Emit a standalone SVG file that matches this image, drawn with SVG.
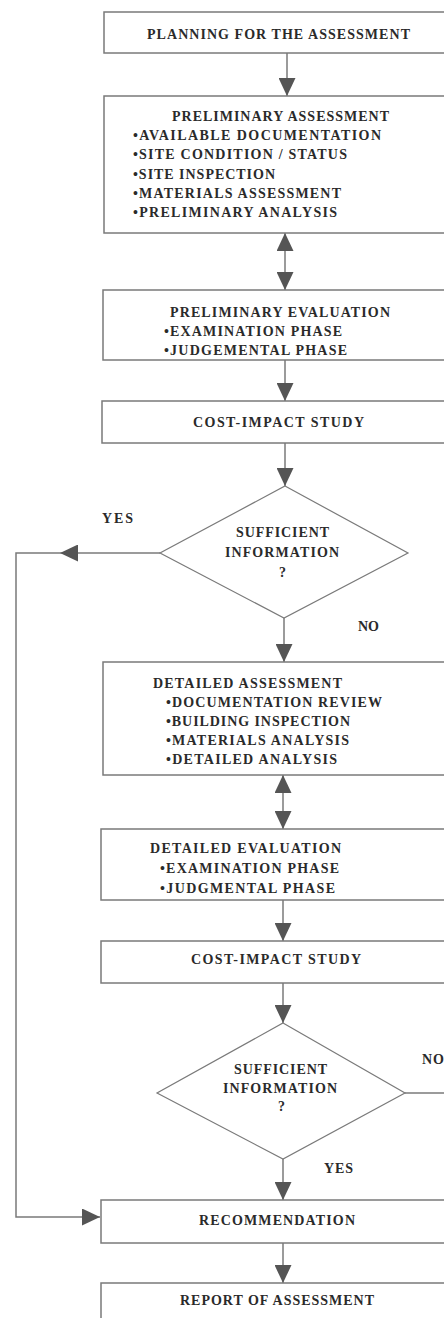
<svg xmlns="http://www.w3.org/2000/svg" width="444" height="1318" viewBox="0 0 444 1318">
  <style>
    .box { fill: #fff; stroke: #7a7a7a; stroke-width: 1.5; }
    .dia { fill: #fff; stroke: #7a7a7a; stroke-width: 1.2; }
    .ln { fill: none; stroke: #7a7a7a; stroke-width: 1.5; }
    text { font-family: "Liberation Serif", "Times New Roman", serif; font-weight: bold; font-size: 14px; fill: #2a2a2a; }
  </style>
  <defs>
    <marker id="arrow" markerUnits="userSpaceOnUse" markerWidth="18" markerHeight="17" refX="18" refY="8.5" orient="auto-start-reverse" viewBox="0 0 18 17">
      <path d="M0,0 L18,8.5 L0,17 Z" fill="#555"/>
    </marker>
  </defs>

  <g id="connectors">
    <line class="ln" x1="287" y1="53" x2="287" y2="96" marker-end="url(#arrow)"/>
    <line class="ln" x1="285" y1="233" x2="285" y2="290" marker-start="url(#arrow)" marker-end="url(#arrow)"/>
    <line class="ln" x1="285" y1="360" x2="285" y2="401" marker-end="url(#arrow)"/>
    <line class="ln" x1="285" y1="443" x2="285" y2="486" marker-end="url(#arrow)"/>
    <line class="ln" x1="160" y1="553" x2="60" y2="553" marker-end="url(#arrow)"/>
    <path class="ln" d="M60,553 L16,553 L16,1217 L100,1217" marker-end="url(#arrow)"/>
    <line class="ln" x1="284" y1="618" x2="284" y2="662" marker-end="url(#arrow)"/>
    <line class="ln" x1="283" y1="775" x2="283" y2="829" marker-start="url(#arrow)" marker-end="url(#arrow)"/>
    <line class="ln" x1="283" y1="900" x2="283" y2="941" marker-end="url(#arrow)"/>
    <line class="ln" x1="283" y1="983" x2="283" y2="1023" marker-end="url(#arrow)"/>
    <line class="ln" x1="405" y1="1093" x2="446" y2="1093"/>
    <line class="ln" x1="283" y1="1159" x2="283" y2="1200" marker-end="url(#arrow)"/>
    <line class="ln" x1="283" y1="1243" x2="283" y2="1283" marker-end="url(#arrow)"/>
    <text x="102" y="523" textLength="31" lengthAdjust="spacing">YES</text>
    <text x="358" y="631" textLength="21" lengthAdjust="spacing">NO</text>
    <text x="422" y="1064" textLength="22" lengthAdjust="spacing">NO</text>
    <text x="324" y="1173" textLength="29" lengthAdjust="spacing">YES</text>
  </g>

  <g id="planning">
    <rect class="box" x="104" y="12" width="360" height="41"/>
    <text x="147" y="39" textLength="263" lengthAdjust="spacing">PLANNING FOR THE ASSESSMENT</text>
  </g>

  <g id="preliminary-assessment">
    <rect class="box" x="104" y="96" width="360" height="137"/>
    <text x="172" y="121" textLength="217" lengthAdjust="spacing">PRELIMINARY ASSESSMENT</text>
    <text x="133" y="140" textLength="248" lengthAdjust="spacing">•AVAILABLE DOCUMENTATION</text>
    <text x="133" y="159" textLength="214" lengthAdjust="spacing">•SITE CONDITION / STATUS</text>
    <text x="133" y="179" textLength="142" lengthAdjust="spacing">•SITE INSPECTION</text>
    <text x="133" y="198" textLength="208" lengthAdjust="spacing">•MATERIALS ASSESSMENT</text>
    <text x="133" y="217" textLength="204" lengthAdjust="spacing">•PRELIMINARY ANALYSIS</text>
  </g>

  <g id="preliminary-evaluation">
    <rect class="box" x="103" y="290" width="360" height="70"/>
    <text x="170" y="317" textLength="220" lengthAdjust="spacing">PRELIMINARY EVALUATION</text>
    <text x="164" y="336" textLength="178" lengthAdjust="spacing">•EXAMINATION PHASE</text>
    <text x="164" y="355" textLength="183" lengthAdjust="spacing">•JUDGEMENTAL PHASE</text>
  </g>

  <g id="cost-impact-1">
    <rect class="box" x="102" y="401" width="360" height="42"/>
    <text x="193" y="427" textLength="171" lengthAdjust="spacing">COST-IMPACT  STUDY</text>
  </g>

  <g id="decision-1">
    <polygon class="dia" points="285,486 408,553 284,618 160,553"/>
    <text x="236" y="537" textLength="93" lengthAdjust="spacing">SUFFICIENT</text>
    <text x="225" y="557" textLength="114" lengthAdjust="spacing">INFORMATION</text>
    <text x="279" y="577">?</text>
  </g>

  <g id="detailed-assessment">
    <rect class="box" x="103" y="662" width="360" height="113"/>
    <text x="153" y="688" textLength="189" lengthAdjust="spacing">DETAILED ASSESSMENT</text>
    <text x="166" y="707" textLength="216" lengthAdjust="spacing">•DOCUMENTATION REVIEW</text>
    <text x="166" y="726" textLength="184" lengthAdjust="spacing">•BUILDING INSPECTION</text>
    <text x="166" y="745" textLength="183" lengthAdjust="spacing">•MATERIALS ANALYSIS</text>
    <text x="166" y="764" textLength="171" lengthAdjust="spacing">•DETAILED ANALYSIS</text>
  </g>

  <g id="detailed-evaluation">
    <rect class="box" x="101" y="829" width="360" height="71"/>
    <text x="150" y="853" textLength="191" lengthAdjust="spacing">DETAILED EVALUATION</text>
    <text x="160" y="873" textLength="179" lengthAdjust="spacing">•EXAMINATION PHASE</text>
    <text x="160" y="893" textLength="175" lengthAdjust="spacing">•JUDGMENTAL PHASE</text>
  </g>

  <g id="cost-impact-2">
    <rect class="box" x="101" y="941" width="360" height="42"/>
    <text x="191" y="964" textLength="170" lengthAdjust="spacing">COST-IMPACT  STUDY</text>
  </g>

  <g id="decision-2">
    <polygon class="dia" points="283,1023 405,1093 283,1159 157,1093"/>
    <text x="234" y="1074" textLength="93" lengthAdjust="spacing">SUFFICIENT</text>
    <text x="223" y="1093" textLength="114" lengthAdjust="spacing">INFORMATION</text>
    <text x="278" y="1111">?</text>
  </g>

  <g id="recommendation">
    <rect class="box" x="101" y="1200" width="360" height="43"/>
    <text x="199" y="1225" textLength="156" lengthAdjust="spacing">RECOMMENDATION</text>
  </g>

  <g id="report">
    <rect class="box" x="101" y="1283" width="360" height="60"/>
    <text x="180" y="1305" textLength="194" lengthAdjust="spacing">REPORT OF ASSESSMENT</text>
  </g>
</svg>
